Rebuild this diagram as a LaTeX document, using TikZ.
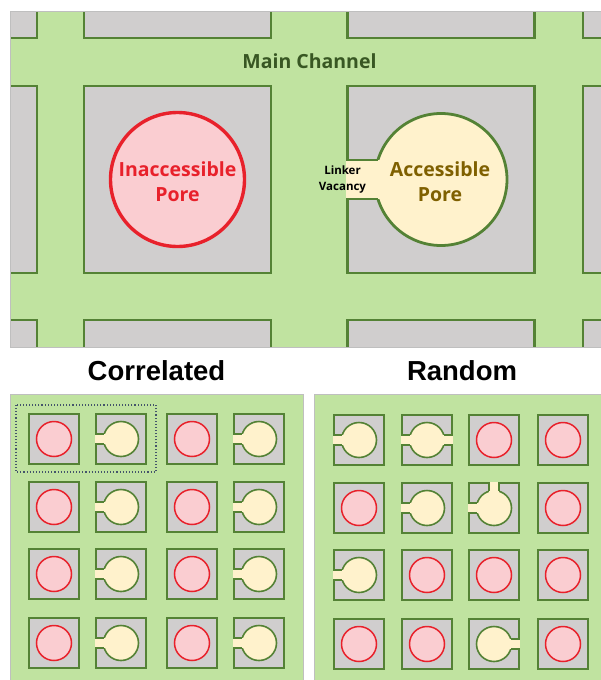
\documentclass[tikz,border=0pt]{standalone}
\usepackage{fontspec}
\setmainfont{Liberation Sans}
\newfontfamily\labelfont{Open Sans}
\definecolor{chan}{HTML}{C0E3A0}
\definecolor{wall}{HTML}{548235}
\definecolor{cellgray}{HTML}{D0CECE}
\definecolor{poreRed}{HTML}{E8212B}
\definecolor{porePink}{HTML}{FACDD1}
\definecolor{poreCream}{HTML}{FFF2CC}
\definecolor{olive}{HTML}{7F6000}
\definecolor{chantext}{HTML}{385723}
\definecolor{frame}{HTML}{BFBFBF}
\definecolor{cellbox}{HTML}{44546A}

\tikzset{
  panel/.style={fill=chan},
  panelframe/.style={draw=frame, line width=0.8pt},
  cellwall/.style={fill=cellgray, draw=wall, line join=miter},
  closedpore/.style={fill=porePink, draw=poreRed},
  openwall/.style={draw=wall},
  title/.style={font=\fontsize{27.5}{32}\selectfont\bfseries, text=black},
}

% gray cell: centre x, centre y, half side, line width
\newcommand\cell[4]{%
  \draw[cellwall, line width=#4] (#1-#3,#2-#3) rectangle (#1+#3,#2+#3);}
% blocked pore: centre x, centre y, radius, line width
\newcommand\closedpore[4]{%
  \draw[closedpore, line width=#4] (#1,#2) circle[radius=#3];}
% open pore with linker vacancies:
% centre x, centre y, half side, radius, half notch, line width, notch angles
\newcommand\openpore[7]{%
  \fill[poreCream] (#1,#2) circle[radius=#4];
  \draw[openwall, line width=#6] (#1,#2) circle[radius=#4];
  \foreach \ang in {#7}{%
    \begin{scope}[shift={(#1,#2)}, rotate=\ang]
      \fill[poreCream] (-#3-#6/2,-#5) rectangle (0,#5);
      \draw[openwall, line width=#6] (-#3-#6/2,-#5) -- ({-sqrt(#4*#4-#5*#5)},-#5);
      \draw[openwall, line width=#6] (-#3-#6/2,#5) -- ({-sqrt(#4*#4-#5*#5)},#5);
    \end{scope}}}

\begin{document}
\begin{tikzpicture}[x=1pt,y=-1pt]
\useasboundingbox (0,0) rectangle (601,680);

% ---------- enlarged view of the framework ----------
\begin{scope}
  \clip (10,11) rectangle (601,347);
  \fill[panel] (10,11) rectangle (601,347);
  \foreach \cx in {-56.5,177.5,441,676.5}
    \foreach \cy in {-55.5,179.5,413.5}
      \cell{\cx}{\cy}{93.5}{2.6};
  \closedpore{177.5}{179.5}{67}{3.4}
  \openpore{441}{179.5}{93.5}{66}{19.5}{2.8}{0}
\end{scope}
\draw[panelframe] (10,11) rectangle (601,347);

\node[font=\labelfont\fontsize{19.5}{24}\selectfont\bfseries, text=chantext] (main) at (309.5,61) {Main Channel};
\node[font=\labelfont\fontsize{19.5}{25}\selectfont\bfseries, text=poreRed, align=center] (inacc) at (177.5,182) {Inaccessible\\Pore};
\node[font=\labelfont\fontsize{19.5}{25}\selectfont\bfseries, text=olive, align=center] (acc) at (440,182) {Accessible\\Pore};
\node[font=\labelfont\fontsize{11.5}{16}\selectfont\bfseries, text=black, align=center] (vac) at (342.5,180) {Linker\\Vacancy};

% ---------- titles ----------
\node[title] (corr) at (156.5,371) {Correlated};
\node[title] (rand) at (462,371) {Random};

% ---------- correlated vacancies ----------
\fill[panel] (10,394) rectangle (303,680);
\draw[panelframe] (10,394) rectangle (303,680);
\foreach \cy in {439,507,574,643}{
  \foreach \cx in {54,121,192,259} \cell{\cx}{\cy}{25}{1.9};
  \closedpore{54}{\cy}{17.5}{1.5}
  \openpore{121}{\cy}{25}{17.5}{5}{1.6}{0}
  \closedpore{192}{\cy}{17.5}{1.5}
  \openpore{259}{\cy}{25}{17.5}{5}{1.6}{0}
}
\draw[cellbox, dotted, line width=1.1pt] (16,405) rectangle (156,472);

% ---------- random vacancies ----------
\fill[panel] (314,394) rectangle (601,680);
\draw[panelframe] (314,394) rectangle (601,680);
\foreach \cx in {359,427,494,563}
  \foreach \cy in {440,508,575,644}
    \cell{\cx}{\cy}{25}{1.9};
% row 1
\openpore{359}{440}{25}{17.5}{5}{1.6}{0}
\openpore{427}{440}{25}{17.5}{5}{1.6}{0,180}
\closedpore{494}{440}{17.5}{1.5}
\closedpore{563}{440}{17.5}{1.5}
% row 2
\closedpore{359}{508}{17.5}{1.5}
\openpore{427}{508}{25}{17.5}{5}{1.6}{0}
\openpore{494}{508}{25}{17.5}{5}{1.6}{0,-90}
\closedpore{563}{508}{17.5}{1.5}
% row 3
\openpore{359}{575}{25}{17.5}{5}{1.6}{0}
\closedpore{427}{575}{17.5}{1.5}
\closedpore{494}{575}{17.5}{1.5}
\closedpore{563}{575}{17.5}{1.5}
% row 4
\closedpore{359}{644}{17.5}{1.5}
\closedpore{427}{644}{17.5}{1.5}
\openpore{494}{644}{25}{17.5}{5}{1.6}{180}
\closedpore{563}{644}{17.5}{1.5}
\end{tikzpicture}
\end{document}
